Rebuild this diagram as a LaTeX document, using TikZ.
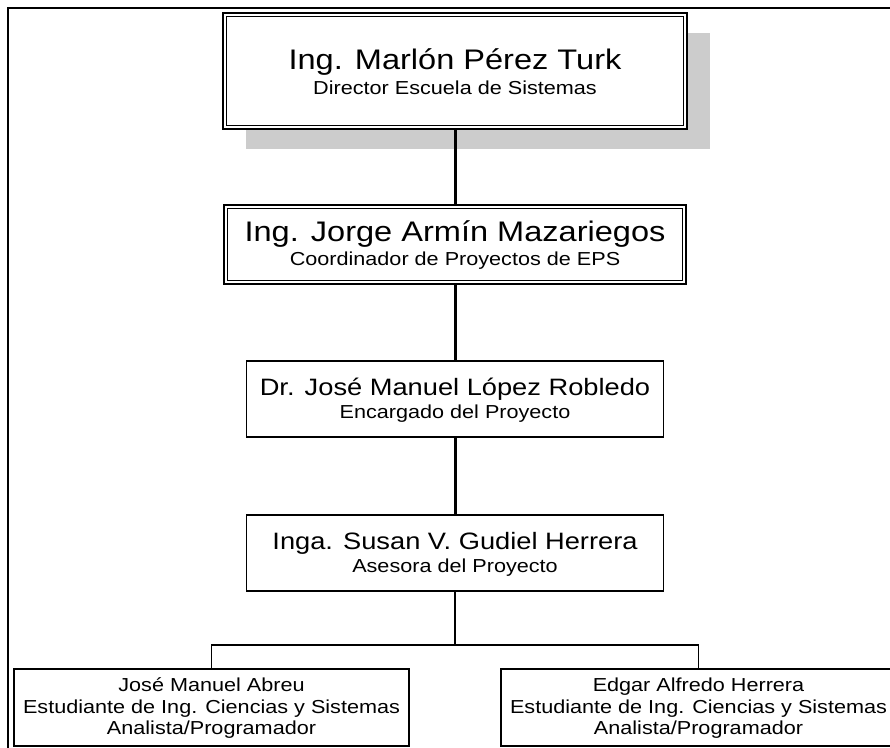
\documentclass[tikz,border=0pt]{standalone}
\usepackage{fontspec}
\setmainfont{Liberation Sans}[FakeStretch=1.15]
\usetikzlibrary{shadows}

\tikzset{
  frame/.style={line width=2pt},
  dblbox/.style={draw, fill=white, line width=2pt, inner sep=0pt},
  innerline/.style={line width=1pt},
  unitbox/.style={draw, fill=white, line width=1.5pt, inner sep=0pt},
  bigname/.style={font=\fontsize{28.3}{32}\selectfont, anchor=base, inner sep=0pt},
  midname/.style={font=\fontsize{23.7}{27}\selectfont, anchor=base, inner sep=0pt},
  subline/.style={font=\fontsize{18.8}{22}\selectfont, anchor=base, inner sep=0pt},
  link/.style={line width=3pt},
  branch/.style={line width=1.5pt},
  grayshadow/.style={drop shadow={shadow xshift=23pt, shadow yshift=-20pt,
                     fill=black!20, opacity=1}},
}

\begin{document}
\begin{tikzpicture}[x=1pt, y=-1pt]
  \useasboundingbox (0,0) rectangle (890,747);
  \clip (0,0) rectangle (890,747);

  % page frame (runs off the right and bottom edges)
  \draw[frame] (8,8) rectangle (905,765);

  % director
  \node[dblbox, grayshadow, minimum width=464pt, minimum height=116pt] (b1) at (455,71) {};
  \draw[innerline] ([shift={(4.5,4.5)}]b1.north west) rectangle ([shift={(-4.5,-4.5)}]b1.south east);
  \node[bigname] (b1n) at (455,69) {Ing. Marlón Pérez Turk};
  \node[subline] (b1s) at (455,94) {Director Escuela de Sistemas};

  % coordinator
  \node[dblbox, minimum width=462pt, minimum height=79pt] (b2) at (455,244.5) {};
  \draw[innerline] ([shift={(4.5,4.5)}]b2.north west) rectangle ([shift={(-4.5,-4.5)}]b2.south east);
  \node[bigname] (b2n) at (455,241) {Ing. Jorge Armín Mazariegos};
  \node[subline] (b2s) at (455,265) {Coordinador de Proyectos de EPS};

  % project lead
  \node[unitbox, minimum width=417pt, minimum height=76pt] (b3) at (455,399) {};
  \node[midname] (b3n) at (455,395) {Dr. José Manuel López Robledo};
  \node[subline] (b3s) at (455,418) {Encargado del Proyecto};

  % advisor
  \node[unitbox, minimum width=417pt, minimum height=76pt] (b4) at (455,553) {};
  \node[midname] (b4n) at (455,549) {Inga. Susan V. Gudiel Herrera};
  \node[subline] (b4s) at (455,572) {Asesora del Proyecto};

  % students
  \node[unitbox, minimum width=395pt, minimum height=77pt] (s1) at (211.5,707.5) {};
  \node[subline] (s1a) at (211.5,691) {José Manuel Abreu};
  \node[subline] (s1b) at (211.5,713) {Estudiante de Ing. Ciencias y Sistemas};
  \node[subline] (s1c) at (211.5,734) {Analista/Programador};

  \node[unitbox, minimum width=395pt, minimum height=77pt] (s2) at (698.5,707.5) {};
  \node[subline] (s2a) at (698.5,691) {Edgar Alfredo Herrera};
  \node[subline] (s2b) at (698.5,713) {Estudiante de Ing. Ciencias y Sistemas};
  \node[subline] (s2c) at (698.5,734) {Analista/Programador};

  % reporting lines
  \draw[link] (b1.south) -- (b2.north);
  \draw[link] (b2.south) -- (b3.north);
  \draw[link] (b3.south) -- (b4.north);
  \coordinate (j) at (455,645);
  \draw[branch] (b4.south) -- (j);
  \draw[branch] (j) -| (s1.north);
  \draw[branch] (j) -| (s2.north);
\end{tikzpicture}
\end{document}
